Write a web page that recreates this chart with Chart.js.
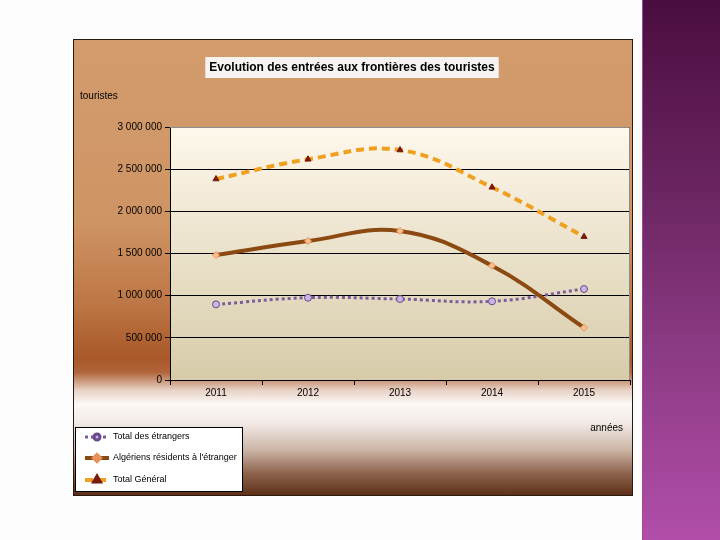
<!DOCTYPE html>
<html>
<head>
<meta charset="utf-8">
<script src="https://cdn.jsdelivr.net/npm/chart.js@4.4.1/dist/chart.umd.min.js"></script>
<style>
  html, body { margin: 0; padding: 0; background: #fdfdfd; }
  body { width: 720px; height: 540px; position: relative; overflow: hidden; }
  .frame {
    position: absolute; left: 73px; top: 39px; width: 560px; height: 457px;
    box-sizing: border-box; border: 1px solid #2a1a10;
    background: linear-gradient(to bottom,
      #d39c6d 0%, #cf9464 40%, #bd7645 58%, #a9582a 70%, #b0643a 73%,
      #e8d2c6 77%, #fbf8f6 80%, #f3ebe8 84%, #cdb6a8 90%, #906650 95%, #5e3018 100%);
  }
  .side {
    position: absolute; left: 642px; top: 0; width: 78px; height: 540px;
    background: linear-gradient(to bottom, #4a0d3f 0%, #6a2560 35%, #8c3a84 65%, #b14ea9 100%);
    border-left: 1px solid #9a4a8e;
  }
</style>
</head>
<body>
<div class="frame"><canvas id="touristChart"></canvas></div>
<div class="side"></div>
<script>
// Data
const years = ['2011', '2012', '2013', '2014', '2015'];
const etrangers = [897000, 976000, 960000, 933000, 1079000];
const algeriens = [1482000, 1648000, 1767000, 1355000, 620000];
const totalGeneral = [2383000, 2617000, 2727000, 2285000, 1700000];
const seriesNames = ['Total des étrangers', 'Algériens résidents à l\'étranger', 'Total Général'];
const yMax = 3000000;
const yStep = 500000;

const chartTitle = 'Evolution des entrées aux frontières des touristes';
const fontFamily = "'Liberation Sans', Arial, sans-serif";

function formatNumber(v) {
  return String(v).replace(/\B(?=(\d{3})+(?!\d))/g, ' ');
}

// Backgrounds, title box, axis titles and the boxed legend
const decorations = {
  id: 'decorations',
  beforeDraw(chart) {
    const ctx = chart.ctx;
    const a = chart.chartArea;
    // plot area gradient
    const g = ctx.createLinearGradient(0, a.top, 0, a.bottom);
    g.addColorStop(0, '#fef8ec');
    g.addColorStop(1, '#d7cba9');
    ctx.save();
    ctx.fillStyle = g;
    ctx.fillRect(a.left, a.top, a.right - a.left, a.bottom - a.top);

    // title box
    ctx.font = 'bold 12px ' + fontFamily;
    const w = ctx.measureText(chartTitle).width;
    const cx = (chart.titleBlock.left + chart.titleBlock.right) / 2;
    ctx.fillStyle = '#f7f3f1';
    ctx.fillRect(cx - w / 2 - 4, 17, w + 8, 21);
    ctx.restore();
  },
  beforeDatasetsDraw(chart) {
    const ctx = chart.ctx;
    const a = chart.chartArea;
    ctx.save();
    ctx.strokeStyle = '#8c8c8c';
    ctx.lineWidth = 1;
    ctx.beginPath();
    ctx.moveTo(a.left, a.top + 0.5);
    ctx.lineTo(a.right - 0.5, a.top + 0.5);
    ctx.lineTo(a.right - 0.5, a.bottom);
    ctx.stroke();
    ctx.restore();
  },
  afterDraw(chart) {
    const ctx = chart.ctx;
    ctx.save();
    ctx.fillStyle = '#000';
    ctx.font = '10px ' + fontFamily;
    ctx.textBaseline = 'middle';
    ctx.textAlign = 'left';
    ctx.fillText('touristes', 6, 56);
    ctx.textAlign = 'right';
    ctx.fillText('années', 549, 388);

    // legend
    ctx.fillStyle = '#ffffff';
    ctx.fillRect(1.5, 387.5, 167, 64);
    ctx.strokeStyle = '#000';
    ctx.lineWidth = 1;
    ctx.strokeRect(1.5, 387.5, 167, 64);
    const rows = [397, 418, 440];
    chart.data.datasets.forEach((ds, i) => {
      const y = rows[i];
      ctx.save();
      ctx.strokeStyle = ds.borderColor;
      ctx.lineWidth = ds.borderWidth;
      ctx.setLineDash(ds.borderDash || []);
      ctx.beginPath();
      ctx.moveTo(11, y);
      ctx.lineTo(35, y);
      ctx.stroke();
      ctx.setLineDash([]);
      ctx.fillStyle = ds.pointBackgroundColor;
      ctx.strokeStyle = ds.pointBorderColor;
      Chart.helpers.drawPoint(ctx, {
        pointStyle: ds.pointStyle,
        radius: 3,
        borderWidth: ds.pointBorderWidth,
        rotation: 0
      }, 23, y);
      ctx.restore();
      ctx.fillStyle = '#000';
      ctx.font = '9px ' + fontFamily;
      ctx.textAlign = 'left';
      ctx.fillText(ds.label, 39, y);
    });
    ctx.restore();
  }
};

new Chart(document.getElementById('touristChart'), {
  type: 'line',
  data: {
    labels: years,
    datasets: [
      {
        label: seriesNames[0],
        data: etrangers,
        borderColor: '#7d5c9c',
        borderWidth: 3,
        borderDash: [3, 3],
        pointStyle: 'circle',
        pointRadius: 3.5,
        pointBackgroundColor: '#c9b6e6',
        pointBorderColor: '#6a4a8a',
        pointBorderWidth: 1,
        tension: 0.4,
        order: 3
      },
      {
        label: seriesNames[1],
        data: algeriens,
        borderColor: '#8b4a12',
        borderWidth: 4,
        pointStyle: 'rectRot',
        pointRadius: 3.5,
        pointBackgroundColor: '#ffc08a',
        pointBorderColor: '#e8905a',
        pointBorderWidth: 1,
        tension: 0.4,
        order: 2
      },
      {
        label: seriesNames[2],
        data: totalGeneral,
        borderColor: '#f0a020',
        borderWidth: 4,
        borderDash: [8, 5],
        pointStyle: 'triangle',
        pointRadius: 3.5,
        pointBackgroundColor: '#7a1a0a',
        pointBorderColor: '#7a1a0a',
        pointBorderWidth: 1,
        tension: 0.4,
        order: 1
      }
    ]
  },
  options: {
    responsive: true,
    maintainAspectRatio: false,
    animation: false,
    layout: { autoPadding: false, padding: { left: 0, right: 2, top: 0, bottom: 0 } },
    plugins: {
      legend: { display: false },
      tooltip: { enabled: false },
      title: {
        display: true,
        text: chartTitle,
        color: '#000',
        font: { family: fontFamily, size: 12, weight: 'bold' },
        padding: { top: 20, bottom: 52.6 }
      }
    },
    scales: {
      x: {
        offset: true,
        grid: { display: true, offset: true, drawOnChartArea: false, drawTicks: true, tickLength: 5, color: '#000' },
        border: { display: true, color: '#000', width: 1 },
        ticks: { color: '#000', padding: 2, font: { family: fontFamily, size: 10 }, maxRotation: 0 },
        afterFit(scale) { scale.height = 115; }
      },
      y: {
        min: 0,
        max: yMax,
        grid: { color: '#000', lineWidth: 1, tickLength: 5 },
        border: { display: true, color: '#000', width: 1 },
        ticks: {
          stepSize: yStep,
          color: '#000',
          padding: 3,
          font: { family: fontFamily, size: 10 },
          callback: (v) => formatNumber(v)
        },
        afterFit(scale) { scale.width = 96; }
      }
    }
  },
  plugins: [decorations]
});
</script>
</body>
</html>
